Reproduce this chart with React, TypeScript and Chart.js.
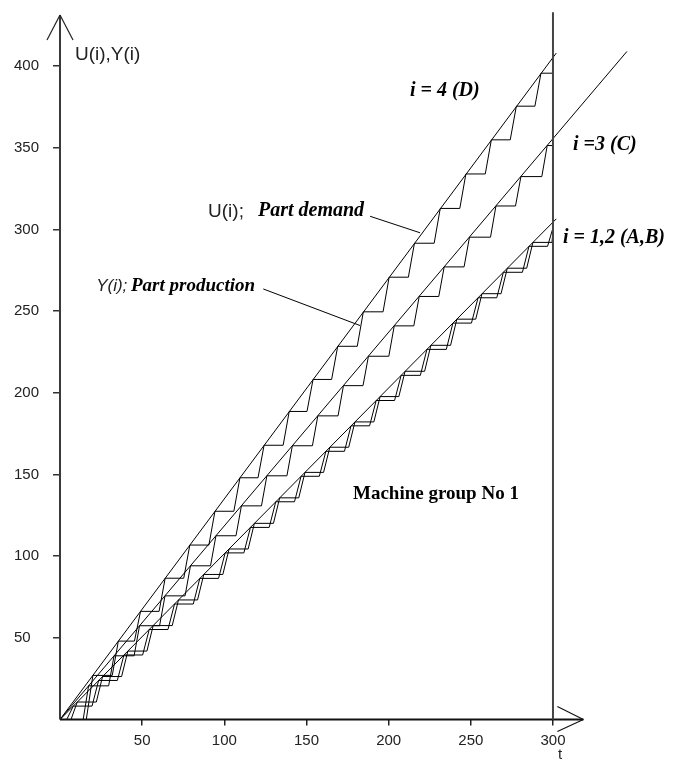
import { useEffect, useRef } from "react";
import { Chart, registerables } from "chart.js";

Chart.register(...registerables);

// ---- axis ticks ----
const xTickValues = [50, 100, 150, 200, 250, 300];
const yTickValues = [50, 100, 150, 200, 250, 300, 350, 400];

// ---- demand lines U(i) (t, U) ----
const demandT_D = [0, 302];
const demandU_D = [0, 408];
const demandT_C = [0, 345];
const demandU_C = [0, 409];
const demandT_AB = [0, 302];
const demandU_AB = [0, 306.5];

// ---- production staircases Y(i): step times, levels, end of hold ----
const prodT_D = [0, 20, 35.5, 49, 64, 79, 94.3, 109.5, 124.2, 139.5, 154, 169, 184.6, 200.3, 215.7, 231.4, 247, 262.5, 277.7, 292.7];
const prodY_D = [0, 27, 48, 66.2, 86.5, 106.8, 127.5, 148, 167.9, 188.6, 208.2, 228.5, 249.6, 270.8, 291.6, 312.9, 334, 354.9, 375.5, 395.7];
const holdEnd_D = [16, 31.8, 45.3, 60.3, 75.3, 90.6, 105.8, 120.5, 135.8, 150.3, 165.3, 180.9, 196.6, 212, 227.7, 243.3, 258.8, 274, 289, 300];
const tail_D = [300, 399];

const prodT_C = [0, 17.4, 32.9, 48.4, 63.9, 79.4, 94.9, 110.4, 125.9, 141.4, 156.9, 172.5, 187.7, 203.4, 218.6, 233.8, 249.2, 265.3, 280.5, 296.5];
const prodY_C = [0, 20.6, 39, 57.4, 75.7, 94.1, 112.5, 130.8, 149.2, 167.6, 185.9, 204.4, 222.4, 241, 259, 277.1, 295.3, 314.4, 332.4, 351.4];
const holdEnd_C = [14.1, 29.6, 45.1, 60.6, 76.1, 91.6, 107.1, 122.6, 138.1, 153.6, 169.2, 184.4, 200.1, 215.3, 230.5, 245.9, 262, 277.2, 293.2, 300];

const prodT_A = [0, 10.5, 25.9, 41.3, 56.7, 72.1, 87.5, 102.9, 118.3, 133.7, 149.1, 164.2, 179.5, 194.8, 210, 225.7, 241.5, 256.8, 272.2, 287.8];
const prodY_A = [0, 10.7, 26.3, 41.9, 57.5, 73.2, 88.8, 104.4, 120.1, 135.7, 151.3, 166.7, 182.2, 197.7, 213.2, 229.1, 245.1, 260.7, 276.3, 292.1];
const holdEnd_A = [6.7, 22.1, 37.5, 52.9, 68.3, 83.7, 99.1, 114.5, 129.9, 145.3, 160.4, 175.7, 191, 206.2, 221.9, 237.7, 253, 268.4, 284, 299.4];
const tail_A = [300, 299];

const prodT_B = [0, 8.1, 23.5, 38.9, 54.3, 69.7, 85.1, 100.5, 115.9, 131.3, 146.7, 161.8, 177.1, 192.4, 207.6, 223.3, 239.1, 254.4, 269.8, 285.4];
const prodY_B = [0, 8.2, 23.9, 39.5, 55.1, 70.7, 86.4, 102, 117.6, 133.3, 148.9, 164.2, 179.8, 195.3, 210.7, 226.6, 242.7, 258.2, 273.8, 289.7];
const holdEnd_B = [4.1, 19.5, 34.9, 50.3, 65.7, 81.1, 96.5, 111.9, 127.3, 142.7, 157.8, 173.1, 188.4, 203.6, 219.3, 235.1, 250.4, 265.8, 281.4, 296.7];
const tail_B = [300, 301];

// ---- annotations (data coordinates) ----
const horizonT = 300;
const xAxisTipT = 318.5;
const yAxisTipV = 431.3;
const horizonTopV = 433;

const SANS = "'Liberation Sans', Arial, sans-serif";
const SERIF = "'Liberation Serif', 'Times New Roman', serif";

function linePts(ts: number[], vs: number[]) {
  return ts.map((t, i) => ({ x: t, y: vs[i] }));
}

function stairPts(ts: number[], vs: number[], hold: number[], tail?: number[]) {
  const pts: { x: number; y: number }[] = [];
  for (let k = 0; k < ts.length; k++) {
    pts.push({ x: ts[k], y: vs[k] });
    pts.push({ x: hold[k], y: vs[k] });
  }
  if (tail) pts.push({ x: tail[0], y: tail[1] });
  return pts;
}

export default function App() {
  const ref = useRef<HTMLCanvasElement>(null);

  useEffect(() => {
    document.body.style.margin = "0";
    const canvas = ref.current!;

    const overlay = {
      id: "overlay",
      afterDraw(chart: any) {
        const ctx = chart.ctx as CanvasRenderingContext2D;
        const xs = chart.scales.x;
        const ys = chart.scales.y;
        const X = (t: number) => xs.getPixelForValue(t);
        const Y = (v: number) => ys.getPixelForValue(v);
        const seg = (x1: number, y1: number, x2: number, y2: number) => {
          ctx.beginPath();
          ctx.moveTo(x1, y1);
          ctx.lineTo(x2, y2);
          ctx.stroke();
        };
        ctx.save();
        // y axis with arrow
        ctx.strokeStyle = "#3a3a3a";
        ctx.lineWidth = 2;
        seg(X(0), Y(0), X(0), Y(yAxisTipV));
        ctx.lineWidth = 1.2;
        ctx.strokeStyle = "#222";
        seg(X(0) - 13, Y(yAxisTipV) + 25, X(0), Y(yAxisTipV));
        seg(X(0), Y(yAxisTipV), X(0) + 13, Y(yAxisTipV) + 25);
        // x axis with arrow
        ctx.strokeStyle = "#111";
        ctx.lineWidth = 2;
        seg(X(0), Y(0), X(xAxisTipT), Y(0));
        ctx.lineWidth = 1.2;
        seg(X(xAxisTipT) - 26, Y(0) - 13, X(xAxisTipT), Y(0));
        seg(X(xAxisTipT), Y(0), X(xAxisTipT) - 26, Y(0) + 12);
        // horizon line t = 300
        ctx.strokeStyle = "#444";
        ctx.lineWidth = 2;
        seg(X(horizonT), Y(0), X(horizonT), Y(horizonTopV));

        // leaders
        ctx.strokeStyle = "#000";
        ctx.lineWidth = 1;
        seg(X(188.7), Y(308.1), X(219.1), Y(298.0));
        seg(X(123.7), Y(263.6), X(182.6), Y(241.2));

        ctx.textBaseline = "middle";
        ctx.fillStyle = "#222";
        ctx.textAlign = "left";
        ctx.font = `19px ${SANS}`;
        ctx.fillText("U(i),Y(i)", X(9.1), Y(407));
        ctx.fillText("U(i);", X(90.1), Y(310.8));
        ctx.font = `italic 17px ${SANS}`;
        ctx.fillText("Y(i);", X(22), Y(265.4));
        ctx.font = `15px ${SANS}`;
        ctx.textAlign = "center";
        ctx.fillText("t", X(304.3), Y(-21.6));

        ctx.fillStyle = "#000";
        ctx.textAlign = "left";
        ctx.font = `italic bold 20px ${SERIF}`;
        ctx.fillText("i = 4 (D)", X(213), Y(385.1));
        ctx.fillText("i =3 (C)", X(312.2), Y(351.7));
        ctx.fillText("i = 1,2 (A,B)", X(306.1), Y(294.6));
        ctx.fillText("Part demand", X(120.5), Y(311.6));
        ctx.textAlign = "right";
        ctx.font = `italic bold 19px ${SERIF}`;
        ctx.fillText("Part production", X(118.7), Y(265.4));
        ctx.textAlign = "left";
        ctx.font = `bold 19px ${SERIF}`;
        ctx.fillText("Machine group No 1", X(178.3), Y(138.3));
        ctx.restore();
      },
    };

    const lineStyle = {
      borderColor: "#000",
      borderWidth: 1,
      pointRadius: 0,
      pointHoverRadius: 0,
      tension: 0,
      fill: false,
      showLine: true,
    };

    const chart = new Chart(canvas, {
      type: "line",
      data: {
        datasets: [
          { label: "U D", data: linePts(demandT_D, demandU_D), ...lineStyle },
          { label: "U C", data: linePts(demandT_C, demandU_C), ...lineStyle },
          { label: "U A,B", data: linePts(demandT_AB, demandU_AB), ...lineStyle },
          { label: "Y D", data: stairPts(prodT_D, prodY_D, holdEnd_D, tail_D), ...lineStyle },
          { label: "Y C", data: stairPts(prodT_C, prodY_C, holdEnd_C), ...lineStyle },
          { label: "Y A", data: stairPts(prodT_A, prodY_A, holdEnd_A, tail_A), ...lineStyle },
          { label: "Y B", data: stairPts(prodT_B, prodY_B, holdEnd_B, tail_B), ...lineStyle },
        ],
      },
      options: {
        responsive: false,
        animation: false,
        events: [],
        layout: { padding: { left: 14, right: 15, top: 4, bottom: 4.5 } },
        plugins: { legend: { display: false }, tooltip: { enabled: false } },
        scales: {
          x: {
            type: "linear",
            min: 0,
            max: 370,
            afterBuildTicks: (s: any) => {
              s.ticks = xTickValues.map((v) => ({ value: v }));
            },
            afterFit: (s: any) => {
              s.height = 40;
            },
            grid: { drawOnChartArea: false, drawTicks: true, tickLength: 6, color: "#222", lineWidth: 1.5 },
            border: { display: false },
            ticks: { autoSkip: false, maxRotation: 0, padding: 6, color: "#222", font: { family: SANS, size: 15 } },
          },
          y: {
            type: "linear",
            min: 0,
            max: 435,
            afterBuildTicks: (s: any) => {
              s.ticks = yTickValues.map((v) => ({ value: v }));
            },
            afterFit: (s: any) => {
              s.width = 46;
            },
            grid: { drawOnChartArea: false, drawTicks: true, tickLength: 7, color: "#333", lineWidth: 1.5 },
            border: { display: false },
            ticks: { autoSkip: false, crossAlign: "far", padding: 0, color: "#222", font: { family: SANS, size: 15 } },
          },
        },
      },
      plugins: [overlay],
    } as any);

    return () => chart.destroy();
  }, []);

  return <canvas ref={ref} width={683} height={764} style={{ display: "block", width: 683, height: 764 }} />;
}
